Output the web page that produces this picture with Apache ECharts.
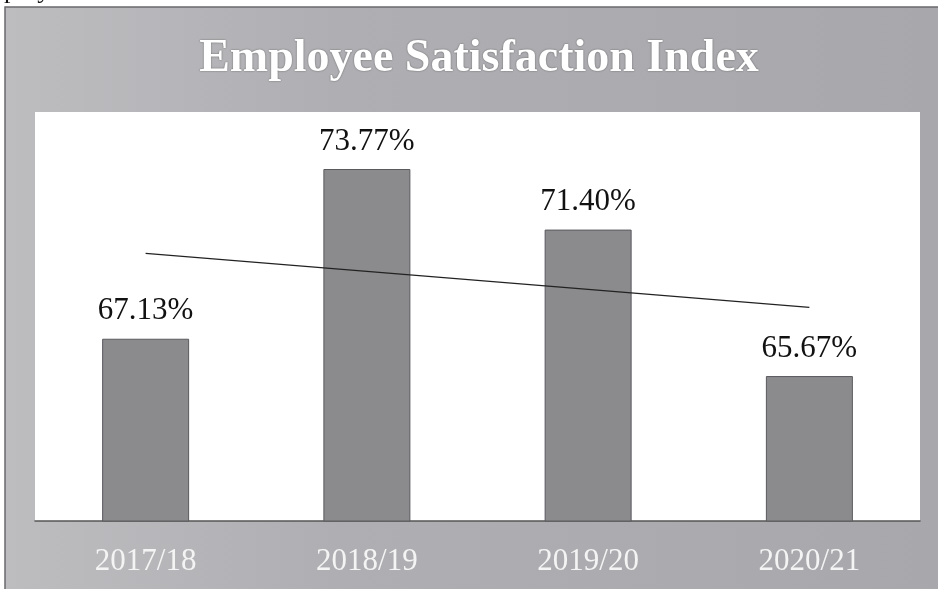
<!DOCTYPE html>
<html>
<head>
<meta charset="utf-8">
<script src="https://cdn.jsdelivr.net/npm/echarts@6/dist/echarts.min.js"></script>
<style>
  html, body { margin: 0; padding: 0; background: #fff; }
  #chart { width: 938px; height: 589px; }
</style>
</head>
<body>
<div id="chart"></div>
<script>
const years = ['2017/18', '2018/19', '2019/20', '2020/21'];
const satisfaction = [67.13, 73.77, 71.40, 65.67];
// trend line ends
const trend = [70.47, '-', '-', 68.36];

const serif = '"Liberation Serif", "DejaVu Serif", serif';
const chart = echarts.init(document.getElementById('chart'));

const option = {
  backgroundColor: '#fff',
  animation: false,
  graphic: [
    {
      type: 'rect',
      z: -10,
      shape: { x: 5, y: 7, width: 940, height: 590 },
      style: {
        fill: new echarts.graphic.LinearGradient(0, 0, 1, 0, [
          { offset: 0, color: '#bdbdc0' },
          { offset: 0.35, color: '#afafb3' },
          { offset: 1, color: '#a7a7ac' }
        ]),
        stroke: '#6a6a6e',
        lineWidth: 1.5
      }
    },
    {
      type: 'text',
      z: -5,
      left: -32,
      top: -22,
      style: { text: 'Employee Satisfaction Index', font: '26px ' + serif, fill: '#111' }
    },
    {
      type: 'text',
      x: 479,
      y: 36,
      style: {
        text: 'Employee Satisfaction Index',
        font: 'bold 46px ' + serif,
        fill: '#fff',
        align: 'center',
        verticalAlign: 'top',
        textShadowColor: 'rgba(40,40,40,0.6)',
        textShadowBlur: 2
      }
    }
  ],
  grid: {
    left: 35, right: 18, top: 112, bottom: 68,
    show: true, backgroundColor: '#fff', borderWidth: 0
  },
  xAxis: {
    type: 'category',
    data: years,
    axisTick: { show: false },
    axisLine: { lineStyle: { color: '#555', width: 1.5 } },
    axisLabel: { color: '#f4f4f4', fontFamily: serif, fontSize: 31, margin: 25 }
  },
  yAxis: {
    type: 'value',
    min: 60, max: 76,
    show: false,
    splitLine: { show: false }
  },
  series: [
    {
      type: 'bar',
      data: satisfaction,
      barWidth: 87,
      itemStyle: { color: '#8b8b8e', borderColor: '#5a5a5e', borderWidth: 1 },
      label: {
        show: true,
        position: 'top',
        distance: 12,
        color: '#111',
        fontFamily: serif,
        fontSize: 31,
        formatter: p => p.value.toFixed(2) + '%'
      }
    },
    {
      type: 'line',
      data: trend,
      connectNulls: true,
      symbol: 'none',
      lineStyle: { color: '#222', width: 1.2 },
      z: 5
    }
  ]
};

chart.setOption(option);
</script>
</body>
</html>
